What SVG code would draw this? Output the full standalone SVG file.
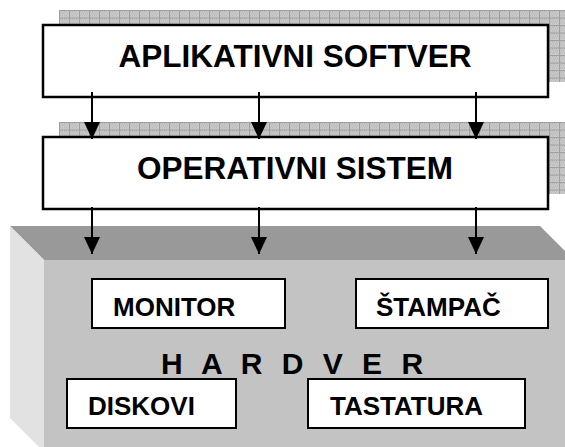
<svg xmlns="http://www.w3.org/2000/svg" width="565" height="447" viewBox="0 0 565 447">
  <style>
    .layer { fill: #ffffff; stroke: #000000; stroke-width: 2.5; }
    .device { fill: #ffffff; stroke: #000000; stroke-width: 2; }
    .big { font-family: "Liberation Sans", Arial, sans-serif; font-weight: bold; font-size: 31.5px; fill: #000000; }
    .small { font-family: "Liberation Sans", Arial, sans-serif; font-weight: bold; font-size: 26px; fill: #000000; }
    .hw { font-family: "Liberation Sans", Arial, sans-serif; font-weight: bold; font-size: 30px; letter-spacing: 5.5px; fill: #000000; }
    .conn { stroke: #000000; stroke-width: 2; fill: none; marker-end: url(#arrow); }
  </style>
  <defs>
    <!-- fine grid used for the drop shadows of the software layers -->
    <pattern id="grid" patternUnits="userSpaceOnUse" x="0" y="0" width="10" height="7.5">
      <rect width="10" height="7.5" fill="#c9c9c9"/>
      <path d="M1 1h1v1h-1zM3 1h1v1h-1zM5 1h1v1h-1zM7 1h1v1h-1zM2 3h1v1h-1zM4 3h1v1h-1zM6 3h1v1h-1zM8 3h1v1h-1zM1 5h1v1h-1zM3 5h1v1h-1zM5 5h1v1h-1zM7 5h1v1h-1z" fill="#b4b4b4"/>
      <path d="M0 0.5H10M0.5 0V7.5" stroke="#9e9e9e" stroke-width="1"/>
    </pattern>
    <!-- filled triangular arrowhead, tip at the line end -->
    <marker id="arrow" markerUnits="userSpaceOnUse" markerWidth="17" markerHeight="16" viewBox="0 0 17 16" refX="17" refY="8" orient="auto">
      <path d="M0 0L17 8L0 16Z" fill="#000000"/>
    </marker>
  </defs>

  <!-- application software layer -->
  <g id="aplikativni-softver">
    <g transform="translate(59 10)">
      <rect x="0" y="0" width="510" height="72" fill="url(#grid)"/>
    </g>
    <rect class="layer" x="43" y="25" width="505" height="72"/>
    <text class="big" x="295" y="67" text-anchor="middle">APLIKATIVNI SOFTVER</text>
  </g>

  <!-- operating system layer -->
  <g id="operativni-sistem">
    <g transform="translate(59 122)">
      <rect x="0" y="0" width="510" height="72" fill="url(#grid)"/>
    </g>
    <rect class="layer" x="43" y="137" width="505" height="72"/>
    <text class="big" x="295" y="179" text-anchor="middle">OPERATIVNI SISTEM</text>
  </g>

  <!-- hardware block drawn as a 3D slab -->
  <g id="hardver">
    <polygon points="10,226 540,226 574,260 44,260" fill="#999999"/>
    <polygon points="10,226 44,260 44,452 10,418" fill="#e2e2e2"/>
    <rect x="44" y="260" width="530" height="192" fill="#c3c3c3"/>
    <text class="hw" x="161" y="374" xml:space="preserve">H A R D V E R</text>
  </g>

  <g id="monitor">
    <rect class="device" x="92" y="279" width="193" height="49"/>
    <text class="small" x="113" y="316">MONITOR</text>
  </g>

  <g id="stampac">
    <rect class="device" x="356" y="279" width="192" height="49"/>
    <text class="small" x="376" y="316">ŠTAMPAČ</text>
  </g>

  <g id="diskovi">
    <rect class="device" x="67" y="379" width="169" height="49"/>
    <text class="small" x="88" y="415">DISKOVI</text>
  </g>

  <g id="tastatura">
    <rect class="device" x="308" y="379" width="217" height="49"/>
    <text class="small" x="330" y="415">TASTATURA</text>
  </g>

  <!-- connectors -->
  <g id="connectors">
    <line class="conn" x1="92" y1="92" x2="92" y2="139"/>
    <line class="conn" x1="259" y1="92" x2="259" y2="139"/>
    <line class="conn" x1="476" y1="92" x2="476" y2="139"/>
    <line class="conn" x1="92" y1="207" x2="92" y2="254"/>
    <line class="conn" x1="259" y1="207" x2="259" y2="254"/>
    <line class="conn" x1="476" y1="207" x2="476" y2="254"/>
  </g>
</svg>
